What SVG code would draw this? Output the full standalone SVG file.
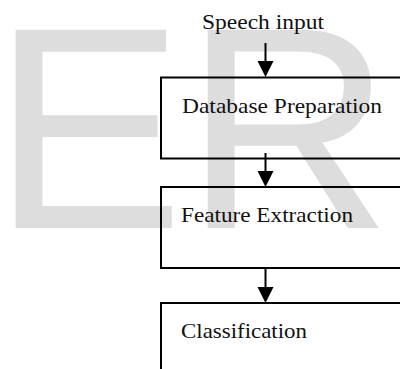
<svg xmlns="http://www.w3.org/2000/svg" width="400" height="369" viewBox="0 0 400 369">
  <style>
    .wm { font-family: "Liberation Sans", Arial, sans-serif; font-size: 288px; fill: #dddddd; }
    .box { fill: none; stroke: #000; stroke-width: 2; }
    .lbl { font-family: "Liberation Serif", "Times New Roman", serif; font-size: 21px; fill: #111; }
    .conn { stroke: #000; stroke-width: 2; fill: none; }
  </style>
  <defs>
    <marker id="arrow" markerUnits="userSpaceOnUse" markerWidth="16" markerHeight="16" refX="0" refY="8" orient="auto" overflow="visible">
      <path d="M0,0 L16,8 L0,16 z" fill="#000"/>
    </marker>
  </defs>
  <rect width="400" height="369" fill="#fff"/>
  <text class="wm" x="-8" y="228">ER</text>

  <g id="speech-input">
    <text class="lbl" x="202" y="28.5" textLength="122" lengthAdjust="spacingAndGlyphs">Speech input</text>
  </g>
  <g id="database-preparation">
    <rect class="box" x="161" y="77.5" width="260" height="81"/>
    <text class="lbl" x="182" y="113" textLength="200" lengthAdjust="spacingAndGlyphs">Database Preparation</text>
  </g>
  <g id="feature-extraction">
    <rect class="box" x="161" y="187" width="260" height="81"/>
    <text class="lbl" x="181" y="221.5" textLength="172" lengthAdjust="spacingAndGlyphs">Feature Extraction</text>
  </g>
  <g id="classification">
    <rect class="box" x="161" y="303" width="260" height="100"/>
    <text class="lbl" x="181" y="337.5" textLength="126" lengthAdjust="spacingAndGlyphs">Classification</text>
  </g>

  <g id="connectors">
    <line class="conn" x1="265.5" y1="43" x2="265.5" y2="61" marker-end="url(#arrow)"/>
    <line class="conn" x1="265.5" y1="153" x2="265.5" y2="171" marker-end="url(#arrow)"/>
    <line class="conn" x1="265.5" y1="268" x2="265.5" y2="287" marker-end="url(#arrow)"/>
  </g>
</svg>
